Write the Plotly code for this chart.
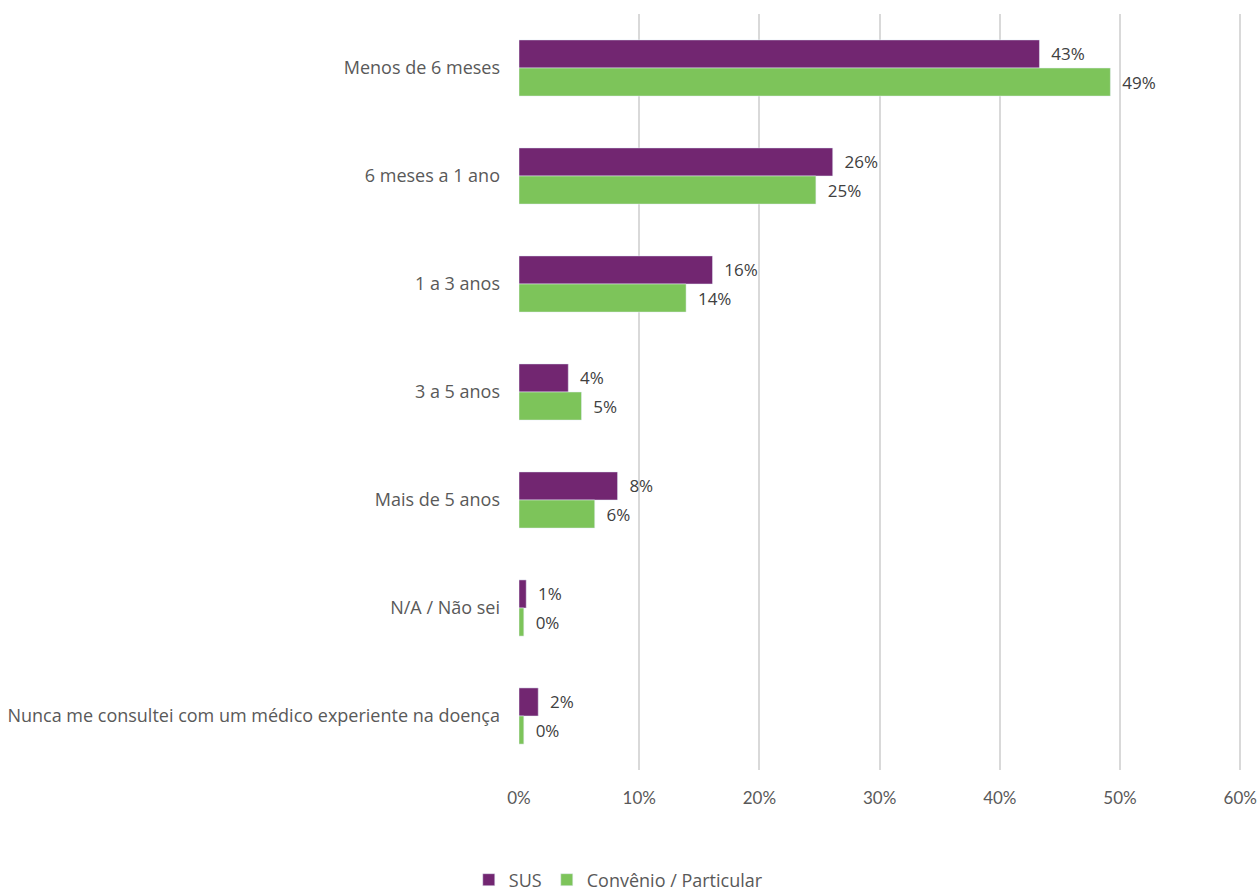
import plotly.graph_objects as go

categories = [
    "Menos de 6 meses",
    "6 meses a 1 ano",
    "1 a 3 anos",
    "3 a 5 anos",
    "Mais de 5 anos",
    "N/A / Não sei",
    "Nunca me consultei com um médico experiente na doença",
]
sus = [0.433, 0.261, 0.161, 0.041, 0.082, 0.006, 0.016]
convenio = [0.492, 0.247, 0.139, 0.052, 0.063, 0.004, 0.004]

PURPLE = "#722671"
GREEN = "#7DC45A"
TEXT = "#595959"
FONT = "'Open Sans', Lato, sans-serif"
TICK_FONT = "'Liberation Sans Narrow', Lato, sans-serif"

label_font = dict(color="#404040", size=17, family=FONT)

fig = go.Figure()
fig.add_trace(go.Bar(
    y=categories, x=sus, name="SUS", orientation="h",
    marker=dict(color=PURPLE),
    texttemplate="  %{x:.0%}", textposition="outside",
    textfont=label_font, cliponaxis=False,
))
fig.add_trace(go.Bar(
    y=categories, x=convenio, name="Convênio / Particular", orientation="h",
    marker=dict(color=GREEN),
    texttemplate="  %{x:.0%}", textposition="outside",
    textfont=label_font, cliponaxis=False,
))

# small headroom past 60% so the last gridline is drawn inside the plot area
x_max = 0.6015

fig.update_layout(
    width=1259, height=891,
    margin=dict(l=519, r=17, t=14, b=121, autoexpand=False),
    paper_bgcolor="white", plot_bgcolor="white",
    barmode="group", bargap=0.48, bargroupgap=0,
    font=dict(family=FONT, size=16, color=TEXT),
    showlegend=True,
    legend=dict(
        orientation="h", x=0.138, xanchor="center", y=-0.1455, yanchor="middle",
        font=dict(size=18, color=TEXT, family=FONT), itemwidth=30, tracegroupgap=0,
    ),
    xaxis=dict(
        range=[0, x_max], tickvals=[0, 0.1, 0.2, 0.3, 0.4, 0.5, 0.6], tickformat=".0%",
        showgrid=True, gridcolor="#D9D9D9", gridwidth=2,
        zeroline=False, showline=False, automargin=False,
        ticks="", tickfont=dict(size=17, color=TEXT, family=TICK_FONT),
        ticklabelstandoff=16,
    ),
    yaxis=dict(
        autorange="reversed", showgrid=False, showline=False, automargin=False,
        ticks="", tickfont=dict(size=18, color=TEXT, family=FONT), ticklabelstandoff=18,
    ),
)

fig.write_html("out.html")
